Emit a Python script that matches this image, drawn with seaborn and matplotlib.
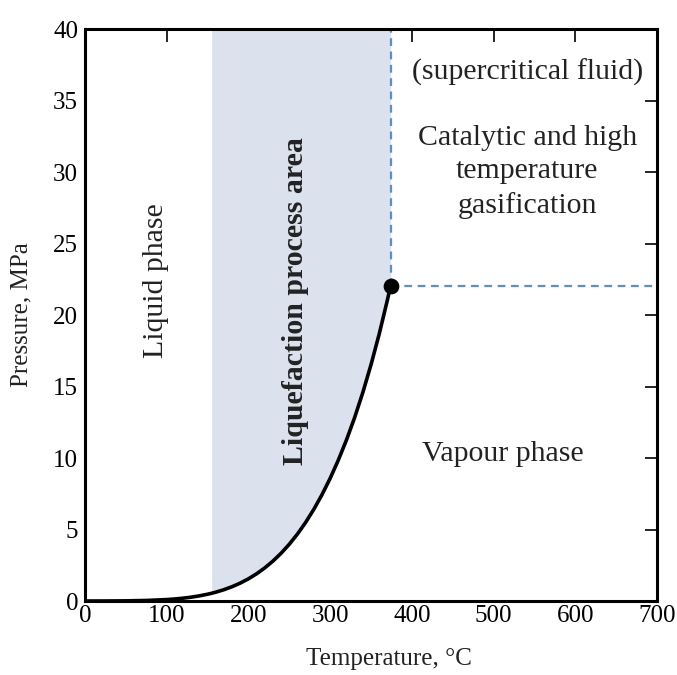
import matplotlib
matplotlib.use("Agg")
import matplotlib.pyplot as plt
import seaborn as sns
import numpy as np
import pandas as pd

# Saturation curve of water
temperature_c = [0, 25, 50, 75, 100, 110, 120, 130, 140, 150, 155, 160, 170, 180, 190,
                 200, 210, 220, 230, 240, 250, 260, 270, 280, 290, 300, 310, 320,
                 330, 340, 350, 360, 370, 374]
pressure_mpa = [0.0006, 0.003, 0.012, 0.039, 0.101, 0.143, 0.199, 0.270, 0.361, 0.476,
                0.543, 0.618, 0.792, 1.003, 1.254, 1.554, 1.906, 2.318, 2.795, 3.344,
                3.973, 4.688, 5.499, 6.412, 7.436, 8.581, 9.856, 11.27, 12.84, 14.59,
                16.53, 18.67, 21.04, 22.06]
critical_t = [374]
critical_p = [22.06]
liquefaction_start_t = 155
x_ticks = [0, 100, 200, 300, 400, 500, 600, 700]
y_ticks = [0, 5, 10, 15, 20, 25, 30, 35, 40]

sns.set_style("white")
plt.rcParams['font.family'] = ['Liberation Serif', 'DejaVu Serif']

df = pd.DataFrame({"T": temperature_c, "P": pressure_mpa})

fig = plt.figure(figsize=(6.77, 6.75), dpi=100)
ax = fig.add_axes([0.1256, 0.1096, 0.8449, 0.8474])

# Shaded liquefaction process area
sub = df[df["T"] >= liquefaction_start_t]
ax.fill_between(sub["T"], sub["P"], 40, color="#dbe2ee", linewidth=0, zorder=1)

# Dashed supercritical boundaries
ax.plot([critical_t[0], critical_t[0]], [critical_p[0], 40], ls=(0, (3.5, 2.5)),
        color="#5b8fc9", lw=1.6, zorder=2)
ax.plot([critical_t[0], 700], [critical_p[0], critical_p[0]], ls=(0, (3.5, 2.5)),
        color="#5b8fc9", lw=1.6, zorder=2)

sns.lineplot(data=df, x="T", y="P", ax=ax, color="black", lw=2.6, zorder=3)
sns.scatterplot(x=critical_t, y=critical_p, ax=ax, color="black", s=110,
                edgecolor="black", zorder=4)

ax.set_xlim(0, 700)
ax.set_ylim(0, 40)
ax.set_xticks(x_ticks)
ax.set_yticks(y_ticks)
ax.tick_params(direction="in", length=9, width=1.2, top=True, right=True,
               labeltop=False, labelright=False, labelsize=18, colors="black", pad=5)
ax.tick_params(axis="x", pad=3)
for s in ax.spines.values():
    s.set_linewidth(2.2)
    s.set_color("black")
    s.set_visible(True)

ax.set_xlabel("Temperature, \u00b0C", fontsize=18, color="#222222")
ax.xaxis.set_label_coords(0.532, -0.083)
ax.set_ylabel("Pressure, MPa", fontsize=18, color="#222222")
ax.yaxis.set_label_coords(-0.092, 0.5)

txt = dict(color="#222222", ha="center", va="center")
fs = 21.5
ax.text(87, 22.4, "Liquid phase", rotation=90, fontsize=fs, **txt)
ax.text(258, 21.0, "Liquefaction process area", rotation=90, fontsize=fs,
        fontweight="bold", **txt)
ax.text(542, 37.0, "(supercritical fluid)", fontsize=fs, **txt)
ax.text(541, 30.0, "Catalytic and high\ntemperature\ngasification", fontsize=fs,
        linespacing=1.35, **txt)
ax.text(511, 10.3, "Vapour phase", fontsize=fs, **txt)

fig.savefig("out.png", dpi=100)
